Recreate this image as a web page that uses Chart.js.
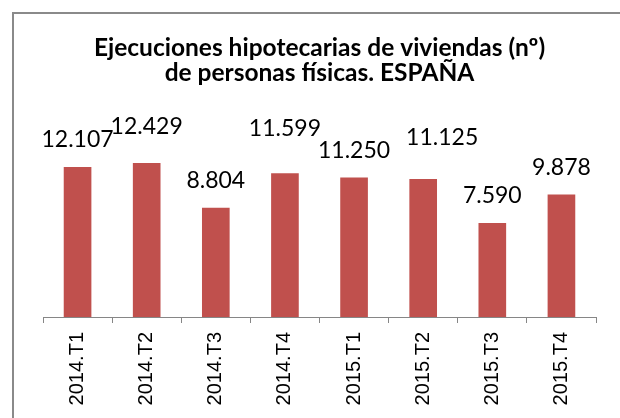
<!DOCTYPE html>
<html>
<head>
<meta charset="utf-8">
<script src="https://cdn.jsdelivr.net/npm/chart.js@4"></script>
<style>
  html, body { margin: 0; padding: 0; background: #fff; }
</style>
</head>
<body>
<canvas id="ejecChart" width="620" height="418"></canvas>
<script>
const categories = ["2014.T1", "2014.T2", "2014.T3", "2014.T4", "2015.T1", "2015.T2", "2015.T3", "2015.T4"];
const values = [12107, 12429, 8804, 11599, 11250, 11125, 7590, 9878];
const titleLines = ["Ejecuciones hipotecarias de viviendas (nº)", "de personas físicas. ESPAÑA"];

// label nudges (dx, dy) relative to the default spot above each bar
const labelShift = [[0, 0], [0, -9], [0, 0], [0, -18], [0, 0], [19, -15], [0, 0], [0, 0]];

function formatEs(v) {
    const rest = String(v % 1000).padStart(3, "0");
    return v >= 1000 ? Math.floor(v / 1000) + "." + rest : String(v);
}

const frame = {
    id: "frame",
    beforeDraw(chart) {
        const ctx = chart.ctx;
        ctx.save();
        ctx.strokeStyle = "#8a8a8a";
        ctx.lineWidth = 2;
        ctx.strokeRect(13, 13, 700, 500);
        ctx.restore();
    },
};

const valueLabels = {
    id: "valueLabels",
    afterDatasetsDraw(chart) {
        const ctx = chart.ctx;
        const meta = chart.getDatasetMeta(0);
        ctx.save();
        ctx.font = "23px Lato";
        ctx.fillStyle = "#000";
        ctx.textAlign = "center";
        ctx.textBaseline = "middle";
        meta.data.forEach((bar, i) => {
            const [dx, dy] = labelShift[i];
            ctx.fillText(formatEs(values[i]), bar.x + dx, bar.y - 27 + dy);
        });
        ctx.restore();
    },
};

const canvas = document.getElementById("ejecChart");
const ejecChart = new Chart(canvas.getContext("2d"), {
    type: "bar",
    data: {
        labels: categories,
        datasets: [
            {
                data: values,
                backgroundColor: "#C0504D",
                barPercentage: 0.8,
                categoryPercentage: 0.5,
            },
        ],
    },
    options: {
        responsive: false,
        animation: false,
        layout: { padding: { left: 43, right: 24, top: 35, bottom: 0 } },
        plugins: {
            legend: { display: false },
            tooltip: { enabled: false },
            title: {
                display: true,
                text: titleLines,
                color: "#000",
                font: { family: "Lato", size: 24.5, weight: "bold", lineHeight: 1.05 },
                padding: { top: 0, bottom: 57 },
            },
        },
        scales: {
            x: {
                grid: {
                    display: true,
                    drawOnChartArea: false,
                    drawTicks: true,
                    tickLength: 6,
                    color: "#868686",
                },
                border: { display: true, color: "#868686", width: 1 },
                ticks: {
                    minRotation: 90,
                    maxRotation: 90,
                    padding: 9,
                    color: "#000",
                    font: { family: "'Liberation Sans Narrow', 'Liberation Sans', Arial", size: 20 },
                },
                afterFit(scale) {
                    scale.height = 101;
                },
            },
            y: {
                display: false,
                min: 0,
                max: 14000,
            },
        },
    },
    plugins: [frame, valueLabels],
});
</script>
</body>
</html>
